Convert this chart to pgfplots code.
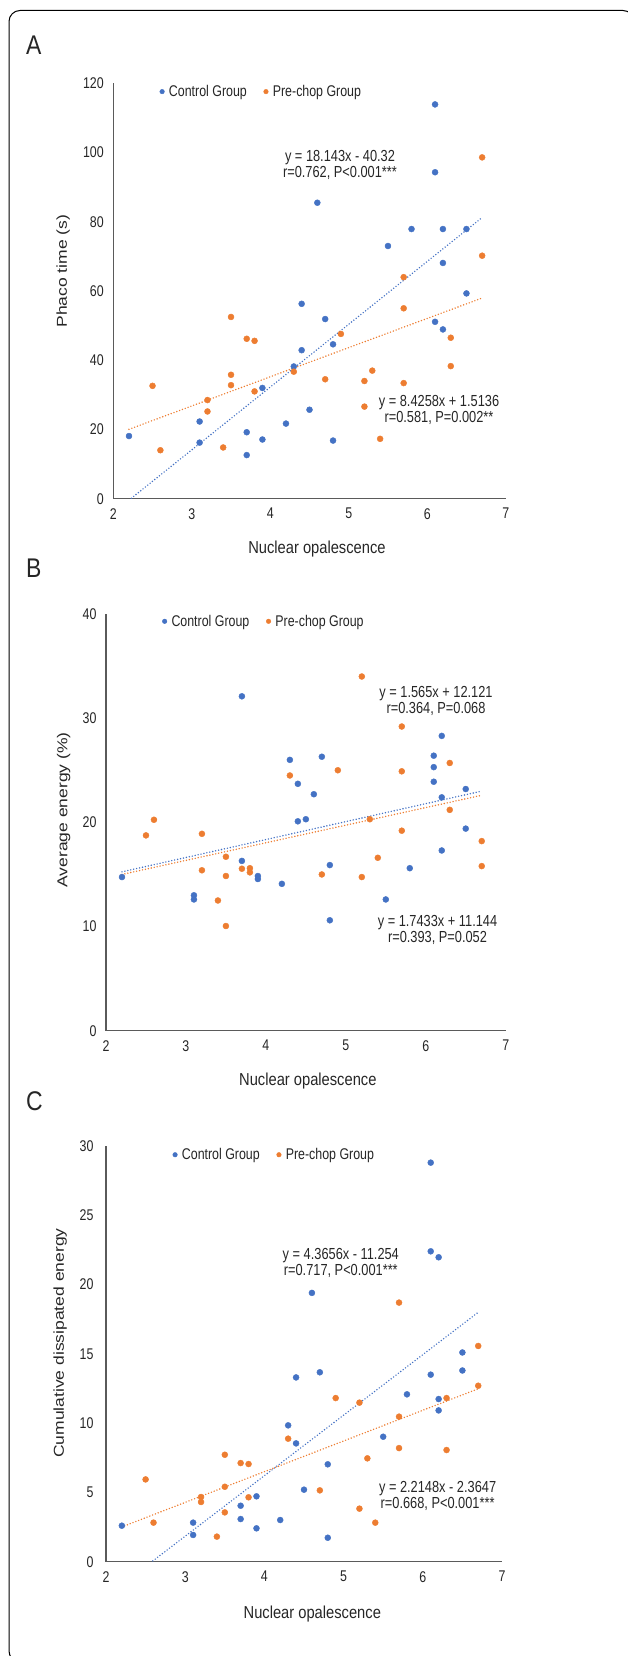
\documentclass[border=0pt]{standalone}
\usepackage{fontspec}
\setmainfont{Liberation Sans}[FakeStretch=0.8]
\newfontfamily\labfont{Liberation Sans}[FakeStretch=0.85]
\newfontfamily\ylabfont{Liberation Sans}
\usepackage{graphicx}
\usepackage{pgfplots}
\pgfplotsset{compat=1.18}
\definecolor{cblue}{HTML}{4472C4}
\definecolor{corange}{HTML}{ED7D31}
\definecolor{axgray}{HTML}{5A5A5A}
\definecolor{txt}{HTML}{262626}

\tikzset{labfnt/.style={font=\labfont\fontsize{17.3}{17.3}\selectfont, text=txt},
         ylabfnt/.style={font=\ylabfont\fontsize{17.5}{17.5}\selectfont, text=txt}}
\newcommand{\ylab}[1]{\scalebox{1}[0.82]{#1}}
\pgfplotsset{
 panel/.style={
  scale only axis,
  axis lines*=left,
  axis line style={axgray, line width=1.3pt},
  xmin=2, xmax=7, ymin=0,
  xtick={2,3,4,5,6,7},
  major tick length=0pt,
  tick style={draw=none},
  /pgf/number format/assume math mode=true,
  ticklabel style={font=\fontsize{15.5}{15.5}\selectfont, text=txt},
  yticklabel style={xshift=-6pt},
  xticklabel style={yshift=-6pt},
  xlabel={Nuclear opalescence},
  legend columns=2,
  legend style={draw=none, fill=none, font=\fontsize{15.5}{15.5}\selectfont, text=txt, inner sep=0pt,
    nodes={inner sep=2.15pt},
    /tikz/every even column/.append style={column sep=14.5pt}},
  legend image code/.code={\draw[#1, mark size=2.3pt] plot coordinates {(0pt,0pt)}; \path (-2.3pt,0pt) (4.5pt,0pt);},
  legend cell align=left,
 },
 sc/.style={only marks, mark=*, mark size=3pt, color=#1, mark options={draw=none, fill=#1}},
 tl/.style={color=#1, line width=1.6pt, dash pattern=on 0pt off 3pt, line cap=round, forget plot},
}

\begin{document}
\begin{tikzpicture}
\useasboundingbox (0,0) rectangle (627pt,-1656pt);
\draw[line width=1pt, rounded corners=11pt] (9pt,-10.5pt) rectangle (634pt,-1662pt);

% ---------------- Panel A ----------------
\node[anchor=base west, inner sep=0pt, font=\labfont\fontsize{27}{27}\selectfont, text=txt] at (26pt,-54.3pt) {A};
\begin{axis}[panel,
  at={(113.3pt,-498.7pt)}, anchor=south west,
  width=392.4pt, height=415.4pt,
  ymax=120, ytick={0,20,40,60,80,100,120},
  ylabel={\ylab{Phaco time (s)}},
  every axis x label/.style={at={(axis description cs:0.519,-0.133)}, anchor=base, labfnt},
  every axis y label/.style={at={(axis description cs:-0.128,0.548)}, anchor=center, rotate=90, ylabfnt},
  legend style={at={(axis description cs:0.1175,0.98)}, anchor=west},
]
\addplot[sc=cblue] table {
x y
2.2 18.1
3.1 22.3
3.1 16.2
3.7 19.2
3.7 12.6
3.9 32.0
3.9 17.1
4.2 21.7
4.3 38.2
4.4 56.3
4.4 42.9
4.5 25.7
4.6 85.5
4.7 51.9
4.8 44.6
4.8 16.8
5.5 73.0
5.8 77.9
6.1 113.9
6.1 94.3
6.1 51.1
6.2 77.9
6.2 68.1
6.2 48.9
6.5 77.9
6.5 59.3
};
\addlegendentry{Control Group}
\addplot[sc=corange] table {
x y
2.5 32.6
2.6 14.0
3.2 28.5
3.2 25.2
3.4 14.8
3.5 52.5
3.5 35.8
3.5 32.8
3.7 46.2
3.8 45.6
3.8 31.0
4.3 36.7
4.7 34.5
4.9 47.6
5.2 34.0
5.2 26.6
5.3 37.0
5.4 17.3
5.7 64.0
5.7 55.0
5.7 33.4
6.3 46.5
6.3 38.3
6.7 98.6
6.7 70.2
};
\addlegendentry{Pre-chop Group}
\addplot[tl=cblue] coordinates {(2.2,-0.41) (6.7,81.24)};
\addplot[tl=corange] coordinates {(2.2,20.05) (6.7,57.97)};
\end{axis}
\node[align=center, font=\fontsize{16}{16.4}\selectfont, text=txt] at (340pt,-165pt) {y = 18.143x - 40.32\\r=0.762, P<0.001***};
\node[align=center, font=\fontsize{16}{16.4}\selectfont, text=txt] at (439pt,-409.7pt) {y = 8.4258x + 1.5136\\r=0.581, P=0.002**};

% ---------------- Panel B ----------------
\node[anchor=base west, inner sep=0pt, font=\labfont\fontsize{27}{27}\selectfont, text=txt] at (26pt,-577pt) {B};
\begin{axis}[panel,
  at={(106pt,-1030.7pt)}, anchor=south west,
  width=399.7pt, height=416.7pt,
  ymax=40, ytick={0,10,20,30,40},
  ylabel={\ylab{Average energy (\%)}},
  every axis x label/.style={at={(axis description cs:0.505,-0.131)}, anchor=base, labfnt},
  every axis y label/.style={at={(axis description cs:-0.106,0.53)}, anchor=center, rotate=90, ylabfnt},
  legend style={at={(axis description cs:0.140,0.9825)}, anchor=west},
]
\addplot[sc=cblue] table {
x y
2.2 14.75
3.1 13.0
3.1 12.6
3.7 32.1
3.7 16.3
3.9 14.85
3.9 14.56
4.2 14.1
4.3 26.0
4.4 23.7
4.4 20.1
4.5 20.3
4.6 22.7
4.7 26.3
4.8 15.9
4.8 10.6
5.5 12.6
5.8 15.6
6.1 26.4
6.1 25.3
6.1 23.9
6.2 28.3
6.2 22.4
6.2 17.3
6.5 23.2
6.5 19.4
};
\addlegendentry{Control Group}
\addplot[sc=corange] table {
x y
2.5 18.75
2.6 20.25
3.2 18.9
3.2 15.4
3.4 12.5
3.5 16.7
3.5 14.85
3.5 10.05
3.7 15.55
3.8 15.6
3.8 15.2
4.3 24.5
4.7 15.0
4.9 25.0
5.2 34.0
5.2 14.75
5.3 20.3
5.4 16.6
5.7 29.2
5.7 24.9
5.7 19.2
6.3 25.7
6.3 21.2
6.7 18.2
6.7 15.8
};
\addlegendentry{Pre-chop Group}
\addplot[tl=cblue] coordinates {(2.2,15.25) (6.7,23.0)};
\addplot[tl=corange] coordinates {(2.2,15.0) (6.7,22.6)};
\end{axis}
\node[align=center, font=\fontsize{16}{16.4}\selectfont, text=txt] at (436pt,-700.7pt) {y = 1.565x + 12.121\\r=0.364, P=0.068};
\node[align=center, font=\fontsize{16}{16.4}\selectfont, text=txt] at (437.5pt,-930.2pt) {y = 1.7433x + 11.144\\r=0.393, P=0.052};

% ---------------- Panel C ----------------
\node[anchor=base west, inner sep=0pt, font=\labfont\fontsize{27}{27}\selectfont, text=txt] at (26pt,-1110pt) {C};
\begin{axis}[panel,
  at={(106pt,-1561.7pt)}, anchor=south west,
  width=396pt, height=415.7pt,
  ymax=30, ytick={0,5,10,15,20,25,30},
  ylabel={\ylab{Cumulative dissipated energy}},
  yticklabel style={xshift=-3pt},
  every axis x label/.style={at={(axis description cs:0.521,-0.1375)}, anchor=base, labfnt},
  every axis y label/.style={at={(axis description cs:-0.116,0.526)}, anchor=center, rotate=90, ylabfnt},
  legend style={at={(axis description cs:0.1676,0.979)}, anchor=west},
]
\addplot[sc=cblue] table {
x y
2.2 2.6
3.1 2.82
3.1 1.93
3.7 4.04
3.7 3.08
3.9 4.72
3.9 2.41
4.2 3.01
4.3 9.84
4.4 13.3
4.4 8.54
4.5 5.2
4.6 19.4
4.7 13.67
4.8 7.03
4.8 1.73
5.5 9.02
5.8 12.08
6.1 28.8
6.1 22.4
6.1 13.5
6.2 21.97
6.2 11.74
6.2 10.92
6.5 15.1
6.5 13.8
};
\addlegendentry{Control Group}
\addplot[sc=corange] table {
x y
2.5 5.94
2.6 2.82
3.2 4.67
3.2 4.31
3.4 1.81
3.5 7.72
3.5 5.41
3.5 3.56
3.7 7.12
3.8 7.05
3.8 4.65
4.3 8.88
4.7 5.15
4.9 11.81
5.2 11.48
5.2 3.83
5.3 7.46
5.4 2.82
5.7 18.7
5.7 10.47
5.7 8.2
6.3 11.81
6.3 8.06
6.7 15.57
6.7 12.7
};
\addlegendentry{Pre-chop Group}
\addplot[tl=cblue] coordinates {(2.2,-1.65) (6.7,18.0)};
\addplot[tl=corange] coordinates {(2.2,2.51) (6.7,12.48)};
\end{axis}
\node[align=center, font=\fontsize{16}{16.4}\selectfont, text=txt] at (340.8pt,-1263pt) {y = 4.3656x - 11.254\\r=0.717, P<0.001***};
\node[align=center, font=\fontsize{16}{16.4}\selectfont, text=txt] at (437.6pt,-1496pt) {y = 2.2148x - 2.3647\\r=0.668, P<0.001***};
\end{tikzpicture}
\end{document}
